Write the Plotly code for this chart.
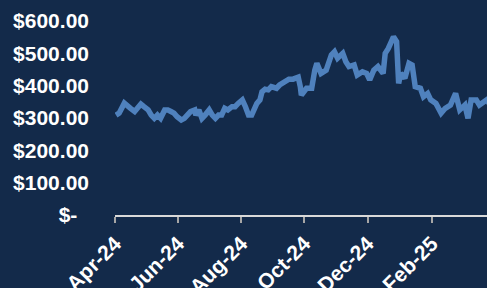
import plotly.graph_objects as go

dates = [
    "2024-04-02", "2024-04-05", "2024-04-10", "2024-04-13", "2024-04-16", "2024-04-20",
    "2024-04-23", "2024-04-26", "2024-04-29", "2024-05-03", "2024-05-06", "2024-05-09",
    "2024-05-12", "2024-05-15", "2024-05-19", "2024-05-22", "2024-05-25", "2024-05-28",
    "2024-05-31", "2024-06-04", "2024-06-07", "2024-06-10", "2024-06-13", "2024-06-17",
    "2024-06-18", "2024-06-21", "2024-06-24", "2024-06-27", "2024-07-01", "2024-07-04",
    "2024-07-07", "2024-07-10", "2024-07-13", "2024-07-16", "2024-07-19", "2024-07-23",
    "2024-07-26", "2024-07-29", "2024-08-02", "2024-08-05", "2024-08-08", "2024-08-11",
    "2024-08-13", "2024-08-16", "2024-08-19", "2024-08-21", "2024-08-24", "2024-08-27",
    "2024-08-30", "2024-09-04", "2024-09-07", "2024-09-10", "2024-09-13", "2024-09-16",
    "2024-09-20", "2024-09-25", "2024-09-27", "2024-09-28", "2024-10-03", "2024-10-08",
    "2024-10-11", "2024-10-13", "2024-10-17", "2024-10-22", "2024-10-27", "2024-10-30",
    "2024-11-02", "2024-11-07", "2024-11-10", "2024-11-13", "2024-11-18", "2024-11-21",
    "2024-11-26", "2024-11-30", "2024-12-03", "2024-12-07", "2024-12-11", "2024-12-16",
    "2024-12-18", "2024-12-21", "2024-12-26", "2024-12-29", "2024-12-31", "2025-01-02",
    "2025-01-06", "2025-01-10", "2025-01-13", "2025-01-16", "2025-01-21", "2025-01-24",
    "2025-01-28", "2025-01-31", "2025-02-05", "2025-02-10", "2025-02-14", "2025-02-19",
    "2025-02-24", "2025-02-28", "2025-03-05", "2025-03-08", "2025-03-11", "2025-03-16",
    "2025-03-19", "2025-03-26", "2025-03-31",
]
prices = [
    309, 315, 346, 340, 330, 320,
    330, 343, 335, 325, 309, 299,
    309, 299, 325, 325, 320, 315,
    304, 294, 299, 309, 320, 325,
    309, 325, 299, 309, 325, 309,
    299, 309, 309, 330, 325, 335,
    335, 345, 356, 335, 309, 309,
    325, 345, 356, 381, 389, 387,
    397, 392, 402, 409, 415, 420,
    420, 426, 397, 371, 392, 392,
    448, 469, 438, 448, 495, 505,
    485, 500, 474, 459, 464, 433,
    443, 438, 418, 448, 459, 438,
    500, 515, 551, 536, 407, 438,
    423, 469, 464, 397, 392, 366,
    376, 356, 345, 315, 330, 340,
    376, 325, 340, 299, 356, 356,
    340, 356, 335,
]

y_tickvals = [0, 100, 200, 300, 400, 500, 600]
y_ticktext = ["$-\u00a0\u00a0", "$100.00", "$200.00", "$300.00", "$400.00", "$500.00", "$600.00"]

x_tickvals = ["2024-04-01", "2024-06-01", "2024-08-01", "2024-10-01", "2024-12-01", "2025-02-01"]
x_ticktext = ["Apr-24", "Jun-24", "Aug-24", "Oct-24", "Dec-24", "Feb-25"]

BG = "#132a4a"
LINE = "#4f81bd"
FONT = dict(family="Liberation Sans, Arial, sans-serif", size=21, color="white", weight="bold")

fig = go.Figure()
fig.add_trace(go.Scatter(
    x=dates, y=prices, mode="lines",
    line=dict(color=LINE, width=5.5, shape="linear"),
    hoverinfo="skip", showlegend=False,
))

fig.update_layout(
    width=487, height=288,
    paper_bgcolor=BG, plot_bgcolor=BG,
    margin=dict(l=115, r=0, t=21, b=73, autoexpand=False),
    font=FONT,
    showlegend=False,
)
fig.update_xaxes(
    type="date",
    range=["2024-04-01", "2025-03-26 08:00"],
    tickvals=x_tickvals, ticktext=x_ticktext,
    tickangle=-45,
    ticks="outside", ticklen=6, tickwidth=2, tickcolor="#a6a6a6",
    showline=True, linecolor="#d9d9d9", linewidth=2,
    showgrid=False, zeroline=False,
    tickfont=FONT,
)
fig.update_yaxes(
    range=[0, 600],
    tickvals=y_tickvals, ticktext=y_ticktext,
    showgrid=False, zeroline=False, showline=False,
    ticks="", ticklabelstandoff=25,
    tickfont=FONT,
)

fig.write_html(
    "out.html",
    config={"displayModeBar": False, "staticPlot": True},
    post_script="document.body.style.margin='0';document.body.style.padding='0';"
                "document.body.style.background='" + BG + "';document.body.style.overflow='hidden';",
)
